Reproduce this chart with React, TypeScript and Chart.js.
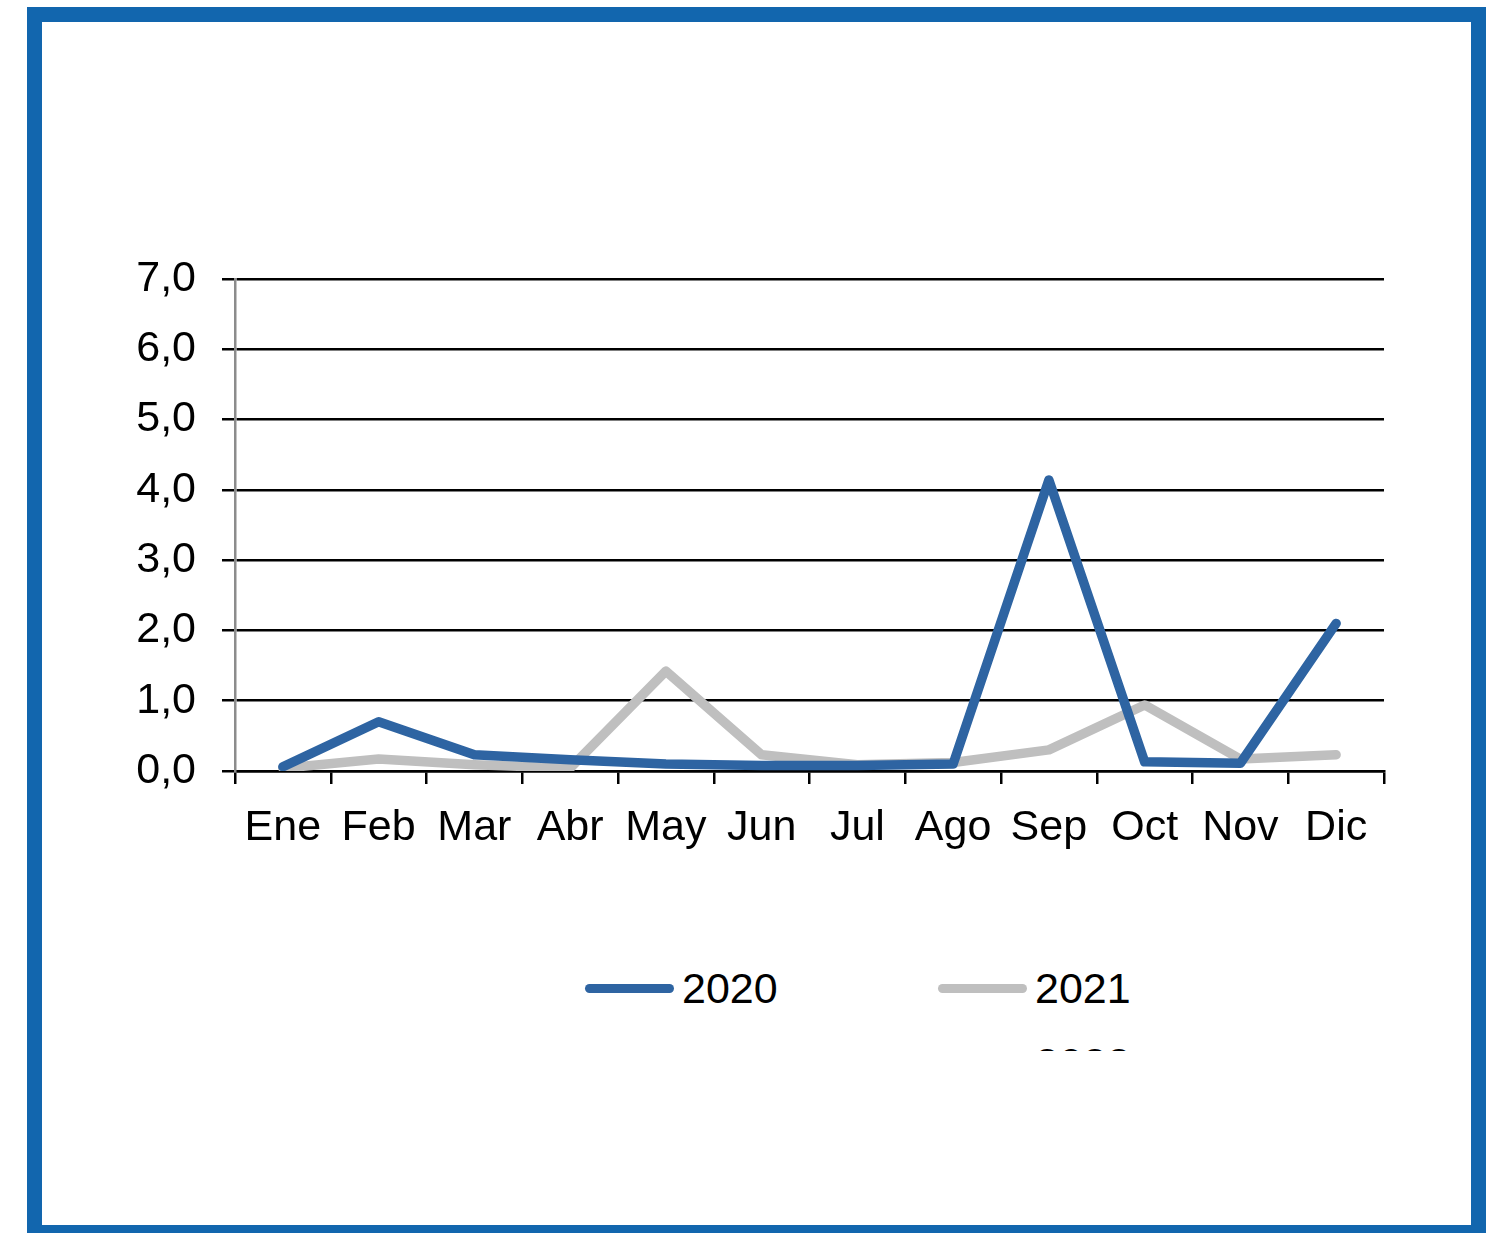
import React, { useEffect, useRef } from 'react';
import { Chart, registerables } from 'chart.js';

Chart.register(...registerables);

const months = ['Ene', 'Feb', 'Mar', 'Abr', 'May', 'Jun', 'Jul', 'Ago', 'Sep', 'Oct', 'Nov', 'Dic'];
const series2020 = [0.06, 0.7, 0.23, 0.16, 0.1, 0.08, 0.08, 0.1, 4.14, 0.13, 0.11, 2.1];
const series2021 = [0.04, 0.17, 0.09, 0.04, 1.42, 0.23, 0.09, 0.12, 0.3, 0.94, 0.17, 0.23];
const series2022: (number | null)[] = [];
const seriesNames = ['2020', '2021', '2022'];
const seriesColors = ['#2e64a2', '#bfbfbf', '#f6f6f6'];
const yTicks = [0, 1, 2, 3, 4, 5, 6, 7];

const FONT = '"Liberation Sans", Arial, sans-serif';

export default function App() {
  const canvasRef = useRef<HTMLCanvasElement | null>(null);

  useEffect(() => {
    const canvas = canvasRef.current;
    if (!canvas) return;
    const allSeries = [series2020, series2021, series2022];
    const chart = new Chart(canvas, {
      type: 'line',
      data: {
        labels: months,
        datasets: allSeries.map((d, i) => ({
          label: seriesNames[i],
          data: d,
          borderColor: seriesColors[i],
          backgroundColor: seriesColors[i],
          borderWidth: 9.5,
          pointRadius: 0,
          pointHoverRadius: 0,
          tension: 0,
          fill: false,
          borderJoinStyle: 'round' as const,
          borderCapStyle: 'round' as const,
        })),
      },
      options: {
        responsive: false,
        maintainAspectRatio: false,
        animation: false,
        devicePixelRatio: 1,
        events: [],
        layout: { padding: { left: 0, right: 112, top: 279, bottom: 9 } },
        plugins: {
          legend: { display: false },
          tooltip: { enabled: false },
          title: { display: false },
        },
        scales: {
          x: {
            type: 'category',
            offset: true,
            grid: {
              offset: true,
              drawOnChartArea: false,
              drawTicks: true,
              tickLength: 13,
              color: '#000',
              lineWidth: 2.5,
            },
            border: { display: true, color: '#000', width: 2.5 },
            ticks: {
              color: '#000',
              font: { family: FONT, size: 43 },
              padding: 18,
              maxRotation: 0,
              minRotation: 0,
              autoSkip: false,
            },
            afterFit: (s: any) => {
              s.height = 100;
            },
          },
          y: {
            min: 0,
            max: 7,
            afterBuildTicks: (s: any) => {
              s.ticks = yTicks.map((v) => ({ value: v }));
            },
            ticks: {
              color: '#000',
              font: { family: FONT, size: 43 },
              padding: 26,
              callback: (v: any) => Number(v).toFixed(1).replace('.', ','),
            },
            grid: { color: '#000', lineWidth: 2.5, tickLength: 13, drawTicks: true },
            border: { display: true, color: '#8c8c8c', width: 2.5 },
            afterFit: (s: any) => {
              s.width = 235;
            },
          },
        },
      },
    });
    return () => chart.destroy();
  }, []);

  const legendPos = [
    { left: 585, top: 27 },
    { left: 938, top: 27 },
    { left: 938, top: 102 },
  ];

  return (
    <div
      style={{
        position: 'absolute',
        left: 0,
        top: 0,
        width: 1496,
        height: 1233,
        overflow: 'hidden',
        background: '#fff',
      }}
    >
      <canvas
        ref={canvasRef}
        width={1496}
        height={880}
        style={{ position: 'absolute', left: 0, top: 0, width: 1496, height: 880 }}
      />
      <div
        style={{
          position: 'absolute',
          left: 0,
          top: 940,
          width: 1496,
          height: 111,
          overflow: 'hidden',
        }}
      >
        {seriesNames.map((name, i) => (
          <div
            key={name}
            style={{
              position: 'absolute',
              left: legendPos[i].left,
              top: legendPos[i].top,
              height: 43,
              display: 'flex',
              alignItems: 'center',
              fontFamily: FONT,
              fontSize: 43,
              lineHeight: '43px',
              color: '#000',
              whiteSpace: 'nowrap',
            }}
          >
            <span
              style={{
                display: 'inline-block',
                width: 89,
                height: 9,
                borderRadius: 5,
                background: seriesColors[i],
                marginRight: 8,
              }}
            />
            <span>{name}</span>
          </div>
        ))}
      </div>
      <div
        style={{
          position: 'absolute',
          left: 27,
          top: 7,
          width: 1459,
          height: 1233,
          border: '15px solid #1266ae',
          boxSizing: 'border-box',
        }}
      />
    </div>
  );
}
